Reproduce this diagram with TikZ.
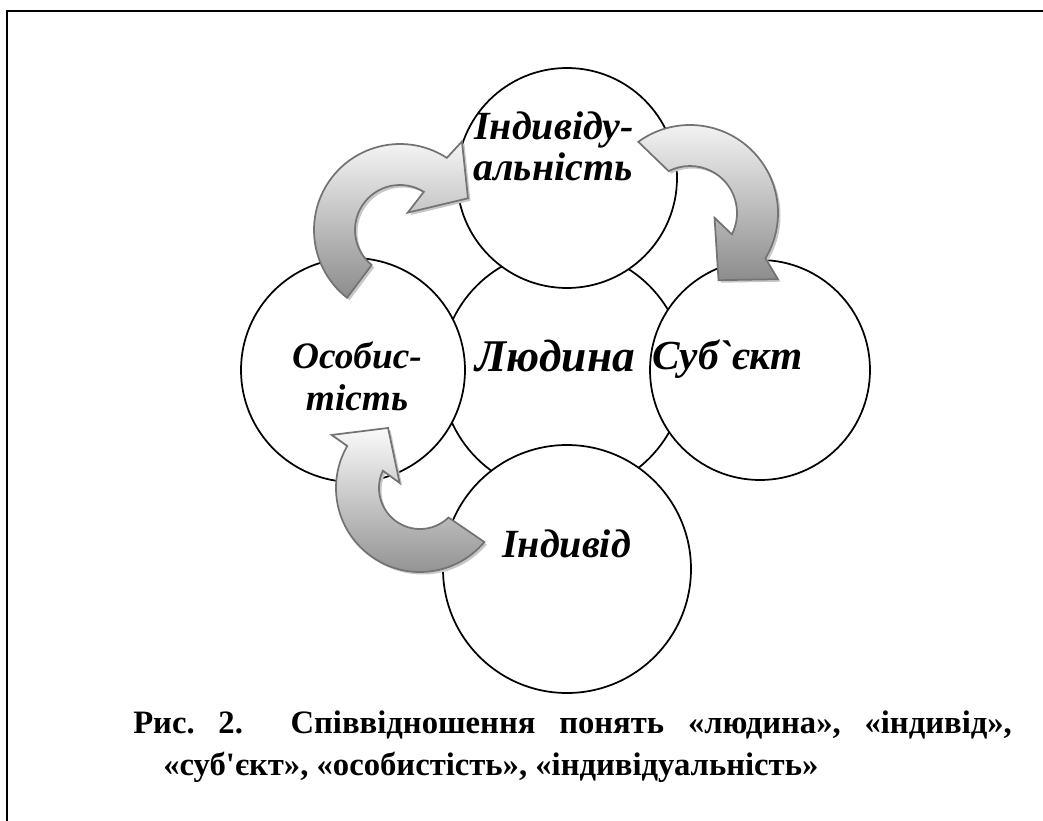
\documentclass[tikz,border=0pt]{standalone}
\usepackage{fontspec}
\newfontfamily\serif{Liberation Serif}
\begin{document}
\frenchspacing
\begin{tikzpicture}[x=0.75pt,y=0.75pt,
  circ/.style={circle, draw=black, line width=1.3pt, fill=white, inner sep=0pt},
  lbl/.style={font=\serif\bfseries\itshape\fontsize{#1}{#1}\selectfont, inner sep=0pt},
  blockarrow/.style={draw=black!55, line width=1.3pt, top color=black!2, bottom color=black!45, line join=miter},
  arrowshadow/.style={fill=black!22},
  capt/.style={font=\serif\bfseries\fontsize{24.5}{28}\selectfont, inner sep=0pt}]
\useasboundingbox (0,0) rectangle (1043,-821);
% frame
\draw[line width=1.6pt] (7,-821) -- (7,-11) -- (1043,-11);
% circles
\node[circ, minimum size=183pt] (centre) at (563,-372) {};
\node[circ, minimum size=165pt] (top) at (567,-178) {};
\node[circ, minimum size=168pt] (left) at (353,-370) {};
\node[circ, minimum size=165pt] (right) at (760,-370) {};
\node[circ, minimum size=186pt] (bottom) at (567,-569) {};
% curved block arrows
\def\arrowOne{(232:86) arc[start angle=232, end angle=57, radius=86] -- (55:108) -- (25:75) -- (66:19) -- (58:45) arc[start angle=58, end angle=231, radius=45] -- cycle}
\def\arrowTwo{(126:88) arc[start angle=126, end angle=-31, radius=88] -- (-37:110) -- (-67:73) -- (-11:25) -- (-27:47) arc[start angle=-27, end angle=117, radius=47] -- cycle}
\def\arrowThree{(-40:84) arc[start angle=-40, end angle=-210, radius=84] -- (149:103) -- (118:68) -- (166:21) -- (155:41) arc[start angle=-205, end angle=-46, radius=41] -- cycle}
\begin{scope}[shift={(400,-230)}]
  \fill[arrowshadow, shift={(2.5,-2.5)}] \arrowOne;
  \path[blockarrow] \arrowOne;
\end{scope}
\begin{scope}[shift={(690,-213)}]
  \fill[arrowshadow, shift={(2.5,-2.5)}] \arrowTwo;
  \path[blockarrow] \arrowTwo;
\end{scope}
\begin{scope}[shift={(420,-488)}]
  \fill[arrowshadow, shift={(2.5,-2.5)}] \arrowThree;
  \path[blockarrow] \arrowThree;
\end{scope}
% labels
\node[lbl=30, anchor=base] (ltopa) at (554,-139) {Індивіду-};
\node[lbl=30, anchor=base] (ltopb) at (553,-180) {альність};
\node[lbl=28, anchor=base] (llefta) at (357,-368) {Особис-};
\node[lbl=28, anchor=base] (lleftb) at (357,-410) {тість};
\node[lbl=34, anchor=base] (lcentre) at (555,-371) {Людина};
\node[lbl=31, anchor=base west] (lright) at (652,-369) {Суб`єкт};
\node[lbl=30, anchor=base west] (lbottom) at (502,-557) {Індивід};
% caption
\node[capt, anchor=base west] (cap1) at (133,-733) {\makebox[659pt][s]{Рис. 2.\ \ Співвідношення понять «людина», «індивід»,}};
\node[capt, anchor=base west] (cap2) at (163,-775) {«суб'єкт», «особистість», «індивідуальність»};
\end{tikzpicture}
\end{document}
